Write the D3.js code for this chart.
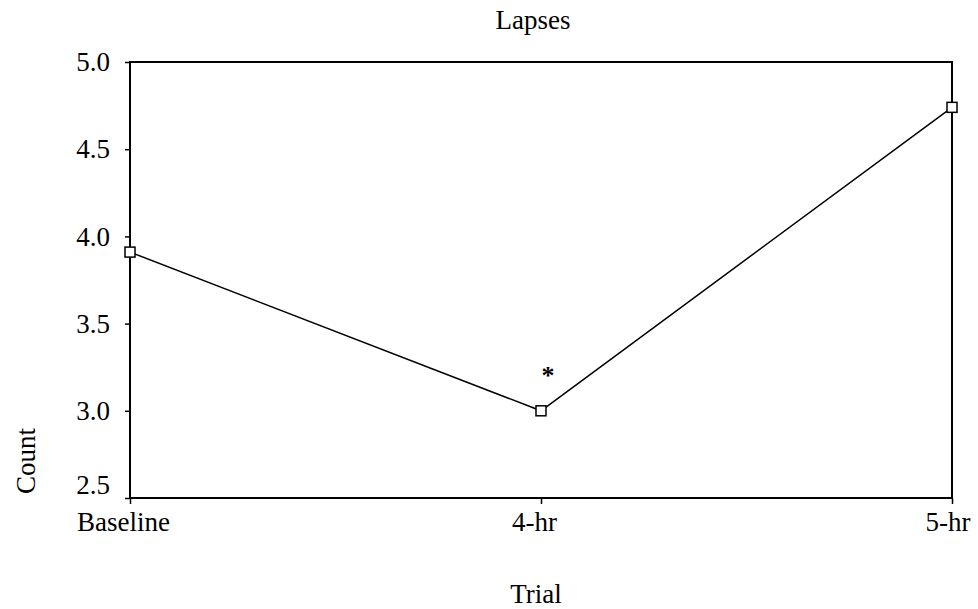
<!DOCTYPE html>
<html><head><meta charset="utf-8">
<script src="https://cdn.jsdelivr.net/npm/d3@7"></script>
<style>body{margin:0;background:#fff}svg{display:block}text{font-family:"Liberation Serif","Times New Roman",serif;fill:#000}</style>
</head><body><svg id="c" width="978" height="609"></svg>
<script>
const categories = ["Baseline", "4-hr", "5-hr"];
const values = [3.91, 3.0, 4.74];
const yTicks = [2.5, 3.0, 3.5, 4.0, 4.5, 5.0];
const annotations = [{cat: "4-hr", text: "*"}];

const svg = d3.select("#c");
const L = 130, R = 952, T = 62, B = 498;
const FS = 27;
const x = d3.scalePoint().domain(categories).range([L, R]);
const y = d3.scaleLinear().domain([2.5, 5.0]).range([B, T]);

// frame
svg.append("rect").attr("x", L).attr("y", T).attr("width", R - L).attr("height", B - T)
  .attr("fill", "none").attr("stroke", "#000").attr("stroke-width", 2);

// y axis
const ya = svg.append("g").attr("transform", `translate(${L},0)`)
  .call(d3.axisLeft(y).tickValues(yTicks).tickFormat(d3.format(".1f")).tickSize(5).tickPadding(15));
ya.select(".domain").remove();
ya.selectAll("line").attr("stroke", "#000").attr("stroke-width", 1.5);
ya.selectAll("text").attr("font-size", FS).style("font-family", '"Liberation Serif",serif');
ya.selectAll("text").filter(d => d === yTicks[0]).attr("y", -13);

// x axis
const xa = svg.append("g").attr("transform", `translate(0,${B})`)
  .call(d3.axisBottom(x).tickSize(6).tickPadding(6));
xa.select(".domain").remove();
xa.selectAll("line").attr("stroke", "#000").attr("stroke-width", 1.5);
xa.selectAll("text").attr("font-size", FS).style("font-family", '"Liberation Serif",serif')
  .attr("y", 33).attr("dy", 0).attr("dx", -7);
xa.selectAll("text").filter(d => d === categories[categories.length - 1])
  .attr("text-anchor", "start").attr("dx", -27);

// line
const pts = categories.map((c, i) => [x(c), y(values[i])]);
svg.append("path").attr("d", d3.line()(pts)).attr("fill", "none").attr("stroke", "#000").attr("stroke-width", 1.5);
svg.selectAll("rect.m").data(pts).enter().append("rect").attr("class", "m")
  .attr("x", d => d[0] - 5).attr("y", d => d[1] - 5).attr("width", 10).attr("height", 10)
  .attr("fill", "#fff").attr("stroke", "#000").attr("stroke-width", 1.5);

// annotation
annotations.forEach(a => {
  const i = categories.indexOf(a.cat);
  svg.append("text").attr("x", x(a.cat) + 7).attr("y", y(values[i]) - 27)
    .attr("text-anchor", "middle").attr("font-size", 26).attr("font-weight", "bold").text(a.text);
});

// titles
svg.append("text").attr("x", 533).attr("y", 29).attr("text-anchor", "middle").attr("font-size", FS).text("Lapses");
svg.append("text").attr("x", 536).attr("y", 603).attr("text-anchor", "middle").attr("font-size", FS).text("Trial");
svg.append("text").attr("transform", "translate(35,461) rotate(-90)").attr("text-anchor", "middle").attr("font-size", FS).text("Count");
</script></body></html>
